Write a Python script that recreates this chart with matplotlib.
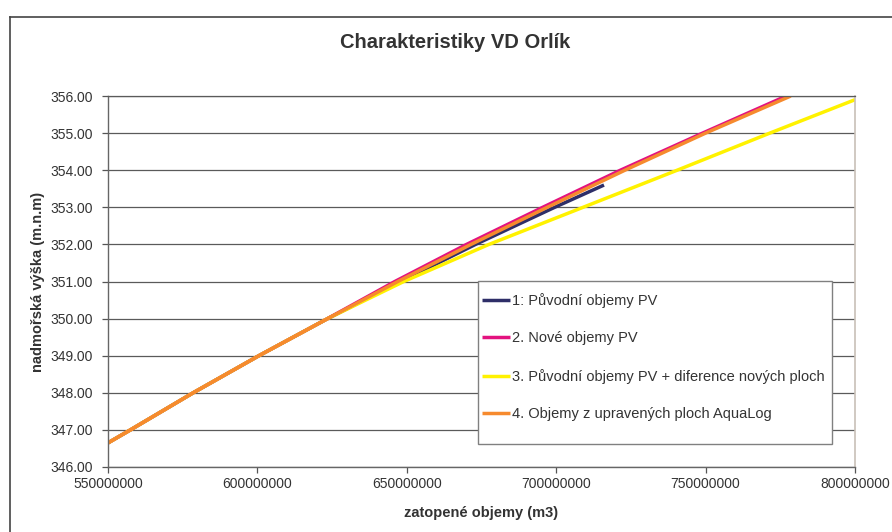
import matplotlib
matplotlib.use('Agg')
import matplotlib.pyplot as plt
from matplotlib.lines import Line2D
from matplotlib.patches import Rectangle
from matplotlib.ticker import FuncFormatter, MultipleLocator

plt.rcParams['font.family'] = ['Liberation Sans', 'DejaVu Sans']

# hladiny (m n.m.) a zatopene objemy (mil. m3) pro jednotlive rady
levels = [346.65, 347.0, 348.0, 349.0, 350.0, 351.0, 352.0, 353.0, 354.0, 355.0, 356.0]

levels_pv = [346.65, 347.0, 348.0, 349.0, 350.0, 351.0, 352.0, 353.0, 353.6]
vol_pv = [550.0, 557.5, 578.5, 600.5, 623.5, 648.0, 673.0, 699.5, 716.0]

vol_new = [550.0, 557.5, 578.5, 600.5, 623.5, 646.0, 670.0, 695.5, 721.5, 749.0, 777.0]

levels_diff = [346.65, 347.0, 348.0, 349.0, 350.0, 351.0, 352.0, 353.0, 354.0, 355.0, 355.9]
vol_diff = [550.0, 557.5, 578.5, 600.5, 623.5, 649.0, 677.5, 709.0, 740.5, 771.5, 800.0]

vol_aqualog = [550.0, 557.5, 578.5, 600.5, 623.5, 647.0, 671.5, 697.0, 723.0, 750.0, 778.5]

labels = [
    '1: Původní objemy PV',
    '2. Nové objemy PV',
    '3. Původní objemy PV + diference nových ploch',
    '4. Objemy z upravených ploch AquaLog',
]
colors = ['#2e2e68', '#e3127f', '#fff200', '#f68a2e']

x_ticks = [550000000, 600000000, 650000000, 700000000, 750000000, 800000000]

W, H = 892, 532
fig = plt.figure(figsize=(W / 100, H / 100), dpi=100)
ax = fig.add_axes([108 / W, 1 - 467 / H, 747 / W, 371 / H])

series = [
    (vol_pv, levels_pv),
    (vol_new, levels),
    (vol_diff, levels_diff),
    (vol_aqualog, levels),
]
lw = 2.5
for (vols, lev), lab, col in zip(series, labels, colors):
    ax.plot([v * 1e6 for v in vols], lev, color=col, lw=lw, label=lab,
            solid_capstyle='butt')

ax.set_xlim(x_ticks[0], x_ticks[-1])
ax.set_ylim(346, 356)
ax.set_xticks(x_ticks)
ax.xaxis.set_major_formatter(FuncFormatter(lambda v, p: f'{int(round(v))}'))
ax.yaxis.set_major_locator(MultipleLocator(1))
ax.yaxis.set_major_formatter(FuncFormatter(lambda v, p: f'{v:.2f}'))

ax.grid(axis='y', color='#5a5a5a', lw=0.9)
ax.set_axisbelow(True)
ax.tick_params(axis='both', direction='out', length=4, width=0.9,
               color='#555555', labelcolor='#333333', labelsize=10)
ax.tick_params(axis='x', pad=3)
ax.tick_params(axis='y', pad=7)

for side in ['left', 'bottom']:
    ax.spines[side].set_color('#666666')
    ax.spines[side].set_linewidth(1.0)
ax.spines['top'].set_color('#5a5a5a')
ax.spines['top'].set_linewidth(0.9)
ax.spines['right'].set_color('#c8c0b8')
ax.spines['right'].set_linewidth(1.2)

ax.set_xlabel('zatopené objemy (m3)', fontsize=10.5, fontweight='bold',
              color='#333333', labelpad=11)
ax.set_ylabel('nadmořská výška (m.n.m)', fontsize=10.5, fontweight='bold',
              color='#333333', labelpad=4)

fig.text(455 / W, 1 - 43 / H, 'Charakteristiky VD Orlík', ha='center', va='center',
         fontsize=14.5, fontweight='bold', color='#333333')

# ramecek legendy kresleny zvlast, legenda sama bez ramecku
ax.add_patch(Rectangle((478 / W, 1 - 444 / H), (832 - 478) / W, (444 - 281) / H,
                       transform=fig.transFigure, facecolor='white',
                       edgecolor='#808080', lw=1.0, zorder=4, clip_on=False))
leg = ax.legend(loc='upper left', bbox_to_anchor=(482 / W, 1 - 293 / H),
                bbox_transform=fig.transFigure, frameon=False,
                fontsize=10.5, labelspacing=1.6, handlelength=1.9,
                handletextpad=0.15, borderpad=0, borderaxespad=0)
leg.set_zorder(5)
for t in leg.get_texts():
    t.set_color('#333333')

# ramecek oblasti grafu
fig.add_artist(Line2D([10 / W, 10 / W], [0, 1 - 17 / H], transform=fig.transFigure,
                      color='#444444', lw=1.2))
fig.add_artist(Line2D([10 / W, 1], [1 - 17 / H, 1 - 17 / H], transform=fig.transFigure,
                      color='#444444', lw=1.2))

fig.savefig('out.png', dpi=100)
